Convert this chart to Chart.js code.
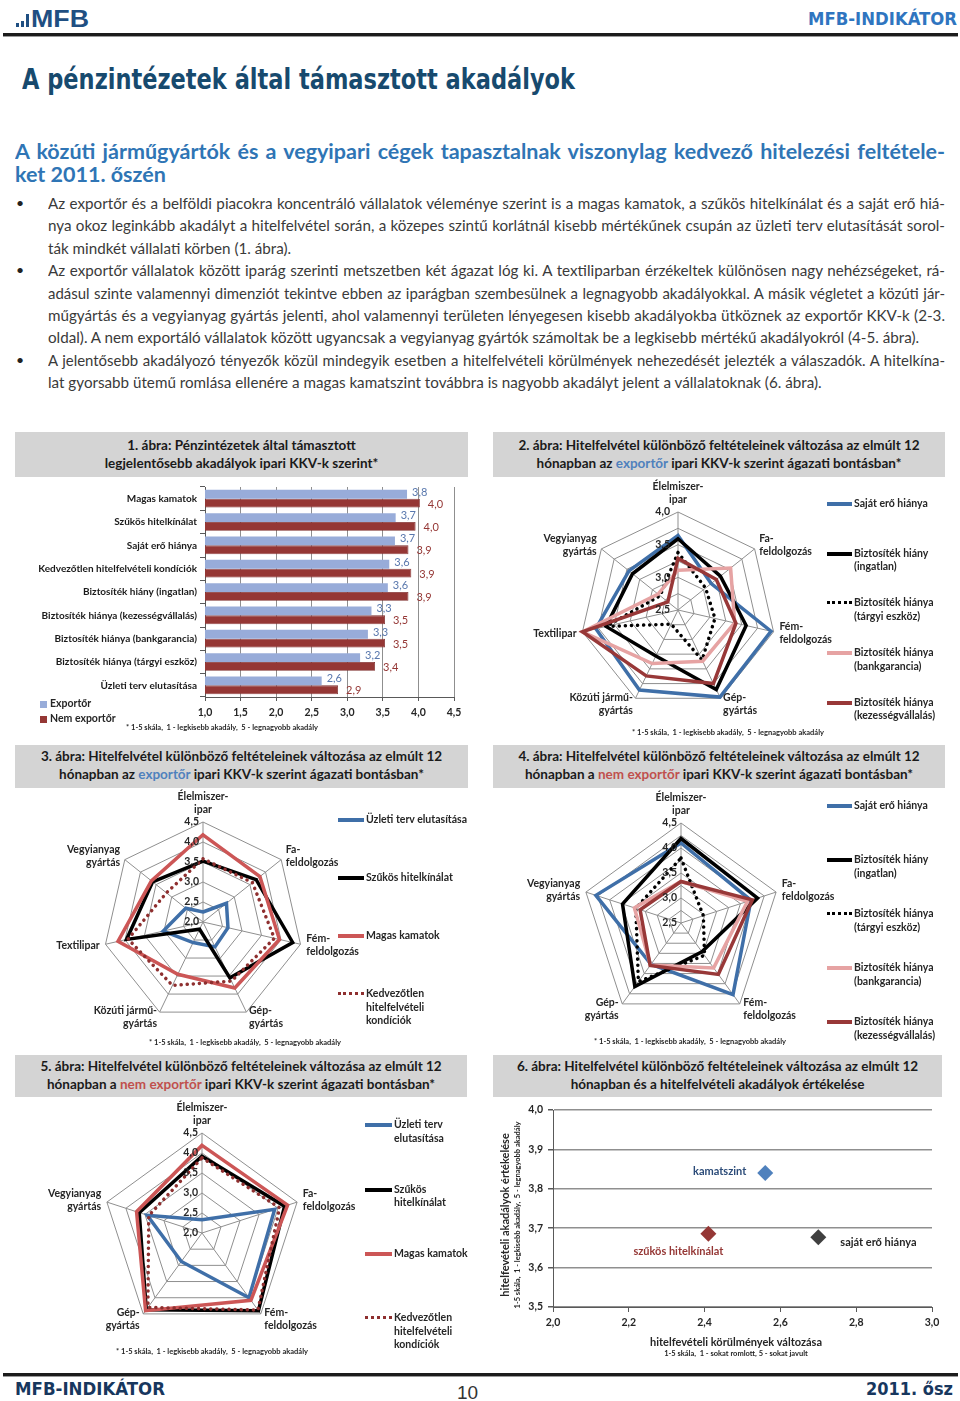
<!DOCTYPE html>
<html lang="hu">
<head>
<meta charset="utf-8">
<title>MFB-INDIKÁTOR – A pénzintézetek által támasztott akadályok</title>
<script src="https://cdn.jsdelivr.net/npm/chart.js@4.4.0/dist/chart.umd.min.js"></script>
<style>
  html, body { margin: 0; padding: 0; background: #fff; }
  body { width: 960px; height: 1401px; position: relative; overflow: hidden; font-family: Lato, 'Open Sans', sans-serif; color: #3a3a3a; }
  .abs { position: absolute; }
  .cond { font-family: 'DejaVu Sans Condensed', 'DejaVu Sans', sans-serif; font-weight: bold; white-space: nowrap; display: inline-block; transform-origin: 0 50%; line-height: 1; }
  .rule { position: absolute; left: 3px; width: 955px; height: 3px; background: #1c1c1c; border-bottom: 1px solid #9a9a9a; }
  .jl { height: 22.4px; line-height: 22.4px; overflow: hidden; text-align: justify; text-align-last: justify; }
  .ll { height: 22.4px; line-height: 22.4px; white-space: nowrap; }
  .bul { position: absolute; left: 16px; font-size: 14px; color: #222; line-height: 22.4px; }
  .tbox { position: absolute; background: #d4d4d4; font-weight: bold; font-size: 13.5px; text-align: center; line-height: 17.5px; padding-top: 5px; box-sizing: border-box; color: #1a1a1a; white-space: nowrap; }
  .ex { color: #4f81bd; }
  .nx { color: #c0504d; }
  canvas { position: absolute; }
  .note { position: absolute; font-size: 7.5px; font-weight: bold; color: #262626; white-space: nowrap; transform: translateX(-50%); }
  .lg { position: absolute; display: flex; align-items: flex-start; font-size: 10.5px; font-weight: bold; color: #262626; }
  .lg .smp { display: inline-block; margin-top: 5px; }
  .lg .txt { white-space: pre-line; line-height: 13.5px; margin-left: 2px; }
  .ttl { position: absolute; white-space: nowrap; color: #262626; transform: translate(-50%, -50%); }
</style>
</head>
<body>

<!-- header -->
<div class="abs" style="left:16px;top:23px;width:3px;height:4px;background:#1f4f82"></div>
<div class="abs" style="left:21px;top:21px;width:3px;height:6px;background:#1f4f82"></div>
<div class="abs" style="left:26px;top:14px;width:3px;height:13px;background:#1f4f82"></div>
<div class="abs" style="left:31px;top:7px;"><span id="logo" style="display:inline-block;transform-origin:0 50%;font-family:'Liberation Sans',Arial,sans-serif;font-weight:bold;font-size:24px;line-height:1;color:#1f4f82;">MFB</span></div>
<div class="abs" style="left:808px;top:9px;"><span id="hdrRight" class="cond" style="font-size:18px;color:#2f75c0;">MFB-INDIKÁTOR</span></div>
<div class="rule" style="top:33px;"></div>

<div class="abs" style="left:22px;top:64.5px;"><span id="mainTitle" class="cond" style="font-size:29px;color:#174a6e;">A pénzintézetek által támasztott akadályok</span></div>

<!-- subheading -->
<div class="abs" style="left:15px;top:140px;width:930px;font-weight:bold;font-size:21.5px;color:#2f75b5;">
  <div class="jl" style="height:23px;line-height:23px;">A közúti járműgyártók és a vegyipari cégek tapasztalnak viszonylag kedvező hitelezési feltétele-</div>
  <div class="ll" style="height:23px;line-height:23px;">ket 2011. őszén</div>
</div>

<!-- body text -->
<div class="bul" style="top:192px;">•</div>
<div class="bul" style="top:259.2px;">•</div>
<div class="bul" style="top:348.8px;">•</div>
<div class="abs" style="left:48px;top:192px;width:897px;font-size:15.2px;color:#3a3a3a;">
  <div class="jl">Az exportőr és a belföldi piacokra koncentráló vállalatok véleménye szerint is a magas kamatok, a szűkös hitelkínálat és a saját erő hiá-</div>
  <div class="jl">nya okoz leginkább akadályt a hitelfelvétel során, a közepes szintű korlátnál kisebb mértékűnek csupán az üzleti terv elutasítását sorol-</div>
  <div class="ll">ták mindkét vállalati körben (1. ábra).</div>
  <div class="jl">Az exportőr vállalatok között iparág szerinti metszetben két ágazat lóg ki. A textiliparban érzékeltek különösen nagy nehézségeket, rá-</div>
  <div class="jl">adásul szinte valamennyi dimenziót tekintve ebben az iparágban szembesülnek a legnagyobb akadályokkal. A másik végletet a közúti jár-</div>
  <div class="jl">műgyártás és a vegyianyag gyártás jelenti, ahol valamennyi területen lényegesen kisebb akadályokba ütköznek az exportőr KKV-k (2-3.</div>
  <div class="ll">oldal). A nem exportáló vállalatok között ugyancsak a vegyianyag gyártók számoltak be a legkisebb mértékű akadályokról (4-5. ábra).</div>
  <div class="jl">A jelentősebb akadályozó tényezők közül mindegyik esetben a hitelfelvételi körülmények nehezedését jelezték a válaszadók. A hitelkína-</div>
  <div class="ll">lat gyorsabb ütemű romlása ellenére a magas kamatszint továbbra is nagyobb akadályt jelent a vállalatoknak (6. ábra).</div>
</div>

<!-- chart title boxes -->
<div class="tbox" style="left:15px;top:432px;width:453px;height:45px;">1. ábra: Pénzintézetek által támasztott<br>legjelentősebb akadályok ipari KKV-k szerint*</div>
<div class="tbox" style="left:493px;top:432px;width:452px;height:45px;">2. ábra: Hitelfelvétel különböző feltételeinek változása az elmúlt 12<br>hónapban az <span class="ex">exportőr</span> ipari KKV-k szerint ágazati bontásban*</div>
<div class="tbox" style="left:15px;top:745px;width:453px;height:43px;padding-top:3px;">3. ábra: Hitelfelvétel különböző feltételeinek változása az elmúlt 12<br>hónapban az <span class="ex">exportőr</span> ipari KKV-k szerint ágazati bontásban*</div>
<div class="tbox" style="left:493px;top:745px;width:452px;height:43px;padding-top:3px;">4. ábra: Hitelfelvétel különböző feltételeinek változása az elmúlt 12<br>hónapban a <span class="nx">nem exportőr</span> ipari KKV-k szerint ágazati bontásban*</div>
<div class="tbox" style="left:15px;top:1055px;width:452px;height:42px;padding-top:3px;">5. ábra: Hitelfelvétel különböző feltételeinek változása az elmúlt 12<br>hónapban a <span class="nx">nem exportőr</span> ipari KKV-k szerint ágazati bontásban*</div>
<div class="tbox" style="left:493px;top:1055px;width:449px;height:42px;padding-top:3px;">6. ábra: Hitelfelvétel különböző feltételeinek változása az elmúlt 12<br>hónapban és a hitelfelvételi akadályok értékelése</div>

<!-- canvases -->
<canvas id="fig1" width="455" height="250" style="left:15px;top:478px;"></canvas>
<canvas id="fig2" width="452" height="262" style="left:493px;top:478px;"></canvas>
<canvas id="fig3" width="455" height="265" style="left:15px;top:788px;"></canvas>
<canvas id="fig4" width="452" height="265" style="left:493px;top:788px;"></canvas>
<canvas id="fig5" width="455" height="268" style="left:15px;top:1097px;"></canvas>
<canvas id="fig6" width="452" height="268" style="left:493px;top:1097px;"></canvas>

<!-- footnotes -->
<div class="note" style="left:222px;top:723px;">* 1-5 skála,&nbsp; 1 - legkisebb akadály,&nbsp; 5 - legnagyobb akadály</div>
<div class="note" style="left:728px;top:728px;">* 1-5 skála,&nbsp; 1 - legkisebb akadály,&nbsp; 5 - legnagyobb akadály</div>
<div class="note" style="left:245px;top:1038px;">* 1-5 skála,&nbsp; 1 - legkisebb akadály,&nbsp; 5 - legnagyobb akadály</div>
<div class="note" style="left:690px;top:1037px;">* 1-5 skála,&nbsp; 1 - legkisebb akadály,&nbsp; 5 - legnagyobb akadály</div>
<div class="note" style="left:212px;top:1347px;">* 1-5 skála,&nbsp; 1 - legkisebb akadály,&nbsp; 5 - legnagyobb akadály</div>

<!-- fig 6 axis titles -->
<div class="ttl" style="left:504px;top:1215px;transform:translate(-50%,-50%) rotate(-90deg);font-size:11px;font-weight:bold;">hitelfevételi akadályok értékelése</div>
<div class="ttl" style="left:517px;top:1215px;transform:translate(-50%,-50%) rotate(-90deg);font-size:7.5px;font-weight:bold;">1-5 skála,&nbsp; 1 - legkisebb akadály,&nbsp; 5 - legnagyobb akadály</div>
<div class="ttl" style="left:736px;top:1341px;font-size:11px;font-weight:bold;">hitelfevételi körülmények változása</div>
<div class="ttl" style="left:736px;top:1353px;font-size:7.5px;font-weight:bold;">1-5 skála,&nbsp; 1 - sokat romlott, 5 - sokat javult</div>

<!-- footer -->
<div class="rule" style="top:1373px;"></div>
<div class="abs" style="left:15px;top:1379px;"><span id="ftrLeft" class="cond" style="font-size:18px;color:#17375e;">MFB-INDIKÁTOR</span></div>
<div class="abs" style="left:457px;top:1383px;font-family:'Liberation Sans',Arial,sans-serif;font-size:19px;line-height:1;color:#333;">10</div>
<div class="abs" style="left:866px;top:1379px;"><span id="ftrRight" class="cond" style="font-size:18px;color:#17375e;">2011. ősz</span></div>

<script>
// ---------- 1. ábra: akadályok, exportőr / nem exportőr ----------
const obstacleLabels = [
  'Magas kamatok', 'Szűkös hitelkínálat', 'Saját erő hiánya',
  'Kedvezőtlen hitelfelvételi kondíciók', 'Biztosíték hiány (ingatlan)',
  'Biztosíték hiánya (kezességvállalás)', 'Biztosíték hiánya (bankgarancia)',
  'Biztosíték hiánya (tárgyi eszköz)', 'Üzleti terv elutasítása'
];
const exporterValues    = [3.84, 3.68, 3.67, 3.59, 3.57, 3.34, 3.29, 3.18, 2.64];
const nonExporterValues = [4.02, 3.96, 3.86, 3.90, 3.86, 3.53, 3.53, 3.39, 2.87];
const barAxisTicks = [1.0, 1.5, 2.0, 2.5, 3.0, 3.5, 4.0, 4.5];

// ---------- ágazatok ----------
const sectors7 = [['Élelmiszer-', 'ipar'], ['Fa-', 'feldolgozás'], ['Fém-', 'feldolgozás'], ['Gép-', 'gyártás'],
                  ['Közúti jármű-', 'gyártás'], ['Textilipar'], ['Vegyianyag', 'gyártás']];
const sectors5 = [['Élelmiszer-', 'ipar'], ['Fa-', 'feldolgozás'], ['Fém-', 'feldolgozás'], ['Gép-', 'gyártás'],
                  ['Vegyianyag', 'gyártás']];

// ---------- 2. ábra: exportőr, saját erő / biztosítékok ----------
const fig2Names = ['Saját erő hiánya', 'Biztosíték hiány\n(ingatlan)', 'Biztosíték hiánya\n(tárgyi eszköz)',
                   'Biztosíték hiánya\n(bankgarancia)', 'Biztosíték hiánya\n(kezességvállalás)'];
const fig2OwnFunds   = [3.64, 3.15, 3.96, 3.98, 3.86, 3.79, 3.46];
const fig2RealEstate = [3.59, 3.33, 3.57, 3.85, 3.28, 3.63, 3.39];
const fig2Assets     = [3.38, 3.04, 3.08, 3.35, 2.74, 3.63, 2.85];
const fig2BankGuar   = [3.11, 3.53, 3.39, 3.37, 3.41, 4.00, 2.89];
const fig2Surety     = [3.29, 3.25, 3.41, 3.75, 3.62, 4.00, 2.70];
const fig2Rings  = [2.5, 2.75, 3.0, 3.25, 3.5, 3.75, 4.0];
const fig2Labels = [2.5, 3.0, 3.5, 4.0];

// ---------- 3. ábra: exportőr, hitelfeltételek ----------
const fig3Names = ['Üzleti terv elutasítása', 'Szűkös hitelkínálat', 'Magas kamatok', 'Kedvezőtlen\nhitelfelvételi\nkondíciók'];
const fig3BusinessPlan = [2.25, 2.75, 2.64, 2.69, 2.57, 3.02, 2.55];
const fig3CreditSupply = [3.52, 3.70, 4.30, 3.55, 2.20, 3.96, 3.61];
const fig3HighRates    = [4.18, 3.82, 3.96, 3.83, 3.45, 4.18, 3.65];
const fig3Conditions   = [3.58, 3.58, 3.83, 3.64, 3.76, 3.92, 3.17];
const fig3Rings  = [2.0, 2.5, 3.0, 3.5, 4.0, 4.5];
const fig3Labels = [2.0, 2.5, 3.0, 3.5, 4.0, 4.5];

// ---------- 4. ábra: nem exportőr, saját erő / biztosítékok ----------
const fig4Names = fig2Names;
const fig4OwnFunds   = [4.10, 3.97, 4.27, 3.52, 4.29];
const fig4RealEstate = [4.19, 4.11, 3.21, 4.07, 3.73];
const fig4Assets     = [3.80, 2.97, 3.30, 3.95, 3.45];
const fig4BankGuar   = [3.33, 3.90, 3.61, 3.54, 3.48];
const fig4Surety     = [3.33, 4.00, 3.77, 3.55, 3.36];
const fig4Rings  = [2.5, 2.75, 3.0, 3.25, 3.5, 3.75, 4.0, 4.25, 4.5];
const fig4Labels = [2.5, 3.0, 3.5, 4.0, 4.5];

// ---------- 5. ábra: nem exportőr, hitelfeltételek ----------
const fig5Names = ['Üzleti terv\nelutasítása', 'Szűkös\nhitelkínálat', 'Magas kamatok', 'Kedvezőtlen\nhitelfelvételi\nkondíciók'];
const fig5BusinessPlan = [2.33, 3.91, 4.00, 2.88, 3.44];
const fig5CreditSupply = [3.92, 4.17, 4.40, 4.37, 3.65];
const fig5HighRates    = [4.19, 4.25, 4.08, 4.40, 3.72];
const fig5Conditions   = [3.88, 4.04, 4.38, 4.30, 3.40];
const fig5Rings  = [2.0, 2.5, 3.0, 3.5, 4.0, 4.5];
const fig5Labels = [2.0, 2.5, 3.0, 3.5, 4.0, 4.5];

// ---------- 6. ábra: változás vs. értékelés ----------
const fig6Names = ['kamatszint', 'szűkös hitelkínálat', 'saját erő hiánya'];
const fig6Change = [2.56, 2.41, 2.70];
const fig6Rating = [3.84, 3.686, 3.677];
const fig6XTicks = [2.0, 2.2, 2.4, 2.6, 2.8, 3.0];
const fig6YTicks = [3.5, 3.6, 3.7, 3.8, 3.9, 4.0];

// ---------- helpers ----------
Chart.defaults.font.family = 'Lato';
Chart.defaults.color = '#262626';

function fmt(v) { return Number(v).toFixed(1).replace('.', ','); }

const FONT_B = { family: 'Lato', size: 10.5, weight: 'bold' };

// line styles (Excel look)
const BLUE  = { color: '#3f6fa8', width: 3.5 };
const BLACK = { color: '#000000', width: 3.5 };
const DOTS  = { color: '#000000', width: 3.5, dash: [0.1, 6] };
const PINK  = { color: '#e6a3a3', width: 3.5 };
const DRED  = { color: '#983838', width: 3.5 };
const RED   = { color: '#cc5656', width: 3.5 };
const RDOTS = { color: '#8e2f2f', width: 3.5, dash: [0.1, 6] };

// draws Excel-like point labels and ring values for radar charts
const radarText = {
  id: 'radarText',
  afterDraw(chart, args, opts) {
    const s = chart.scales.r;
    const ctx = chart.ctx;
    const lh = 13;
    ctx.save();
    ctx.fillStyle = '#262626';
    ctx.font = 'bold 10.5px Lato';
    ctx.textBaseline = 'middle';
    chart.data.labels.forEach((lines, i) => {
      const a = s.getIndexAngle(i);
      const p = s.getPointPosition(i, s.drawingArea + opts.pad);
      const sx = Math.sin(a);
      ctx.textAlign = Math.abs(sx) < 0.05 ? 'center' : (sx > 0 ? 'left' : 'right');
      let y0 = p.y - (lines.length - 1) * lh / 2;
      if (Math.cos(a) > 0.99) y0 = p.y - (lines.length - 1) * lh - lh / 2;
      lines.forEach((t, k) => ctx.fillText(t, p.x, y0 + k * lh));
    });
    ctx.textAlign = 'right';
    opts.labeled.forEach(v => {
      const d = s.getDistanceFromCenterForValue(v);
      ctx.fillText(fmt(v), s.xCenter - opts.tickGap, s.yCenter - d);
    });
    ctx.restore();
  }
};

function radarChart(id, box, cx, cy, R, labels, series, styles, rings, labeled, tickGap) {
  const n = series.length;
  return new Chart(document.getElementById(id), {
    type: 'radar',
    data: {
      labels: labels,
      datasets: series.map((d, i) => ({
        label: d.name,
        data: d.values,
        borderColor: styles[i].color,
        borderWidth: styles[i].width,
        borderDash: styles[i].dash || [],
        borderCapStyle: styles[i].dash ? 'round' : 'butt',
        borderJoinStyle: 'miter',
        backgroundColor: 'transparent',
        fill: false,
        pointRadius: 0,
        tension: 0,
        clip: false,
        order: n - i
      }))
    },
    options: {
      responsive: false,
      animation: false,
      layout: { padding: { left: cx - R - box.x, top: cy - R - box.y, right: box.x + box.w - (cx + R), bottom: box.y + box.h - (cy + R) } },
      plugins: { legend: { display: false }, tooltip: { enabled: false }, radarText: { pad: 6, labeled: labeled, tickGap: tickGap } },
      scales: {
        r: {
          min: rings[0],
          max: rings[rings.length - 1],
          afterBuildTicks: s => { s.ticks = rings.map(v => ({ value: v })); },
          ticks: { display: false },
          pointLabels: { display: false },
          grid: { color: '#8f8f8f', lineWidth: 1 },
          angleLines: { color: '#8f8f8f', lineWidth: 1 }
        }
      }
    },
    plugins: [radarText]
  });
}

function buildLegend(names, styles, pos) {
  names.forEach((name, i) => {
    const st = styles[i];
    const item = document.createElement('div');
    item.className = 'lg';
    item.style.left = pos.x + 'px';
    item.style.top = (pos.y + i * pos.step - 6.75) + 'px';
    const smp = document.createElement('span');
    smp.className = 'smp';
    smp.style.width = pos.w + 'px';
    smp.style.borderTop = (st.dash ? '3.5px dotted ' : '4px solid ') + st.color;
    const txt = document.createElement('span');
    txt.className = 'txt';
    txt.textContent = name;
    item.appendChild(smp);
    item.appendChild(txt);
    document.body.appendChild(item);
  });
}

// ---------- 1. ábra ----------
const barValueLabels = {
  id: 'barValueLabels',
  afterDatasetsDraw(chart, args, opts) {
    const ctx = chart.ctx;
    ctx.save();
    ctx.font = '11px Lato';
    ctx.textAlign = 'left';
    ctx.textBaseline = 'middle';
    chart.data.datasets.forEach((ds, di) => {
      ctx.fillStyle = opts.colors[di];
      chart.getDatasetMeta(di).data.forEach((bar, i) => {
        ctx.fillText(fmt(ds.data[i]), bar.x + opts.dx[di], bar.y + opts.dy[di]);
      });
    });
    ctx.restore();
  }
};

new Chart(document.getElementById('fig1'), {
  type: 'bar',
  data: {
    labels: obstacleLabels,
    datasets: [
      { label: 'Exportőr', data: exporterValues, backgroundColor: '#98acd9' },
      { label: 'Nem exportőr', data: nonExporterValues, backgroundColor: '#953735', borderColor: '#7d2b2a', borderWidth: 0.8 }
    ]
  },
  options: {
    indexAxis: 'y',
    responsive: false,
    animation: false,
    categoryPercentage: 0.76,
    barPercentage: 1,
    layout: { padding: { top: 5, right: 16, left: 0, bottom: 0 } },
    plugins: {
      legend: { display: false },
      tooltip: { enabled: false },
      barValueLabels: { colors: ['#5877ad', '#953735'], dx: [5, 8], dy: [-2, 1] }
    },
    scales: {
      x: {
        min: barAxisTicks[0],
        max: barAxisTicks[barAxisTicks.length - 1],
        afterBuildTicks: s => { s.ticks = barAxisTicks.map(v => ({ value: v })); },
        afterFit: s => { s.height = 31; },
        grid: { color: '#8f8f8f', tickLength: 4, tickColor: '#595959' },
        border: { color: '#595959' },
        ticks: { callback: v => fmt(v), font: FONT_B, color: '#262626', padding: 5, maxRotation: 0 }
      },
      y: {
        afterFit: s => { s.width = 190; },
        grid: { drawOnChartArea: false, offset: true, tickLength: 5, tickColor: '#595959' },
        border: { color: '#595959' },
        ticks: { font: { family: 'Lato', size: 10, weight: 'bold' }, color: '#1a1a1a', padding: 3 }
      }
    }
  },
  plugins: [barValueLabels]
});

// legend 1
[['Exportőr', '#98acd9'], ['Nem exportőr', '#953735']].forEach((it, i) => {
  const d = document.createElement('div');
  d.className = 'lg';
  d.style.left = '40px';
  d.style.top = (697 + i * 15) + 'px';
  d.innerHTML = '<span style="display:inline-block;width:7px;height:7px;margin-top:3.5px;background:' + it[1] + '"></span>' +
                '<span class="txt" style="margin-left:3px;">' + it[0] + '</span>';
  document.body.appendChild(d);
});

// ---------- 2. ábra ----------
const fig2Styles = [BLUE, BLACK, DOTS, PINK, DRED];
radarChart('fig2', { x: 493, y: 478, w: 452, h: 262 }, 678.5, 610, 98, sectors7, [
  { name: fig2Names[0], values: fig2OwnFunds },
  { name: fig2Names[1], values: fig2RealEstate },
  { name: fig2Names[2], values: fig2Assets },
  { name: fig2Names[3], values: fig2BankGuar },
  { name: fig2Names[4], values: fig2Surety }
], fig2Styles, fig2Rings, fig2Labels, 8);
buildLegend(fig2Names, fig2Styles, { x: 827, y: 504, step: 49.6, w: 25 });

// ---------- 3. ábra ----------
const fig3Styles = [BLUE, BLACK, RED, RDOTS];
radarChart('fig3', { x: 15, y: 788, w: 455, h: 265 }, 203.5, 922, 100, sectors7, [
  { name: fig3Names[0], values: fig3BusinessPlan },
  { name: fig3Names[1], values: fig3CreditSupply },
  { name: fig3Names[2], values: fig3HighRates },
  { name: fig3Names[3], values: fig3Conditions }
], fig3Styles, fig3Rings, fig3Labels, 4);
buildLegend(fig3Names, fig3Styles, { x: 338, y: 820, step: 58, w: 26 });

// ---------- 4. ábra ----------
const fig4Styles = [BLUE, BLACK, DOTS, PINK, DRED];
radarChart('fig4', { x: 493, y: 788, w: 452, h: 265 }, 681.5, 923, 100, sectors5, [
  { name: fig4Names[0], values: fig4OwnFunds },
  { name: fig4Names[1], values: fig4RealEstate },
  { name: fig4Names[2], values: fig4Assets },
  { name: fig4Names[3], values: fig4BankGuar },
  { name: fig4Names[4], values: fig4Surety }
], fig4Styles, fig4Rings, fig4Labels, 4);
buildLegend(fig4Names, fig4Styles, { x: 827, y: 806, step: 54, w: 25 });

// ---------- 5. ábra ----------
const fig5Styles = [BLUE, BLACK, RED, RDOTS];
radarChart('fig5', { x: 15, y: 1097, w: 455, h: 268 }, 202.5, 1233, 100, sectors5, [
  { name: fig5Names[0], values: fig5BusinessPlan },
  { name: fig5Names[1], values: fig5CreditSupply },
  { name: fig5Names[2], values: fig5HighRates },
  { name: fig5Names[3], values: fig5Conditions }
], fig5Styles, fig5Rings, fig5Labels, 4);
buildLegend(fig5Names, fig5Styles, { x: 365, y: 1125, step: 64.3, w: 27 });

// ---------- 6. ábra ----------
const scatterLabels = {
  id: 'scatterLabels',
  afterDatasetsDraw(chart, args, opts) {
    const ctx = chart.ctx;
    ctx.save();
    ctx.font = 'bold 11px Lato';
    ctx.textBaseline = 'middle';
    chart.getDatasetMeta(0).data.forEach((pt, i) => {
      const o = opts.offsets[i];
      ctx.fillStyle = opts.colors[i];
      ctx.textAlign = o.align;
      ctx.fillText(fig6Names[i], pt.x + o.dx, pt.y + o.dy);
    });
    ctx.restore();
  }
};

const fig6Colors = ['#4f81bd', '#953735', '#404040'];
new Chart(document.getElementById('fig6'), {
  type: 'scatter',
  data: {
    datasets: [{
      data: fig6Change.map((x, i) => ({ x: x, y: fig6Rating[i] })),
      pointStyle: 'rectRot',
      pointRadius: 8,
      backgroundColor: fig6Colors,
      borderColor: fig6Colors,
      borderWidth: 0
    }]
  },
  options: {
    responsive: false,
    animation: false,
    layout: { padding: { top: 13, right: 13, left: 0, bottom: 0 } },
    plugins: {
      legend: { display: false },
      tooltip: { enabled: false },
      scatterLabels: {
        colors: ['#2b4b78', '#953735', '#262626'],
        offsets: [{ dx: -19, dy: -2, align: 'right' }, { dx: -30, dy: 18, align: 'center' }, { dx: 22, dy: 5, align: 'left' }]
      }
    },
    scales: {
      x: {
        min: fig6XTicks[0],
        max: fig6XTicks[fig6XTicks.length - 1],
        afterBuildTicks: s => { s.ticks = fig6XTicks.map(v => ({ value: v })); },
        afterFit: s => { s.height = 58; },
        grid: { drawOnChartArea: false, tickLength: 5, tickColor: '#595959' },
        border: { color: '#595959' },
        ticks: { callback: v => fmt(v), font: FONT_B, color: '#262626', padding: 4, maxRotation: 0 }
      },
      y: {
        min: fig6YTicks[0],
        max: fig6YTicks[fig6YTicks.length - 1],
        afterBuildTicks: s => { s.ticks = fig6YTicks.map(v => ({ value: v })); },
        afterFit: s => { s.width = 60; },
        grid: { color: '#8f8f8f', lineWidth: 1.5, tickLength: 5, tickColor: '#595959' },
        border: { color: '#595959' },
        ticks: { callback: v => fmt(v), font: FONT_B, color: '#262626', padding: 5 }
      }
    }
  },
  plugins: [scatterLabels]
});

// ---------- text fitting ----------
function fitWidth(id, w) {
  const el = document.getElementById(id);
  const k = w / el.getBoundingClientRect().width;
  el.style.transform = 'scaleX(' + k + ')';
}
fitWidth('logo', 58);
fitWidth('hdrRight', 149);
fitWidth('mainTitle', 553);
fitWidth('ftrLeft', 150);
fitWidth('ftrRight', 87);

document.querySelectorAll('.jl').forEach(el => {
  let fs = parseFloat(getComputedStyle(el).fontSize);
  while (el.scrollHeight > el.clientHeight + 1 && fs > 8) {
    fs -= 0.25;
    el.style.fontSize = fs + 'px';
  }
});
</script>
</body>
</html>
